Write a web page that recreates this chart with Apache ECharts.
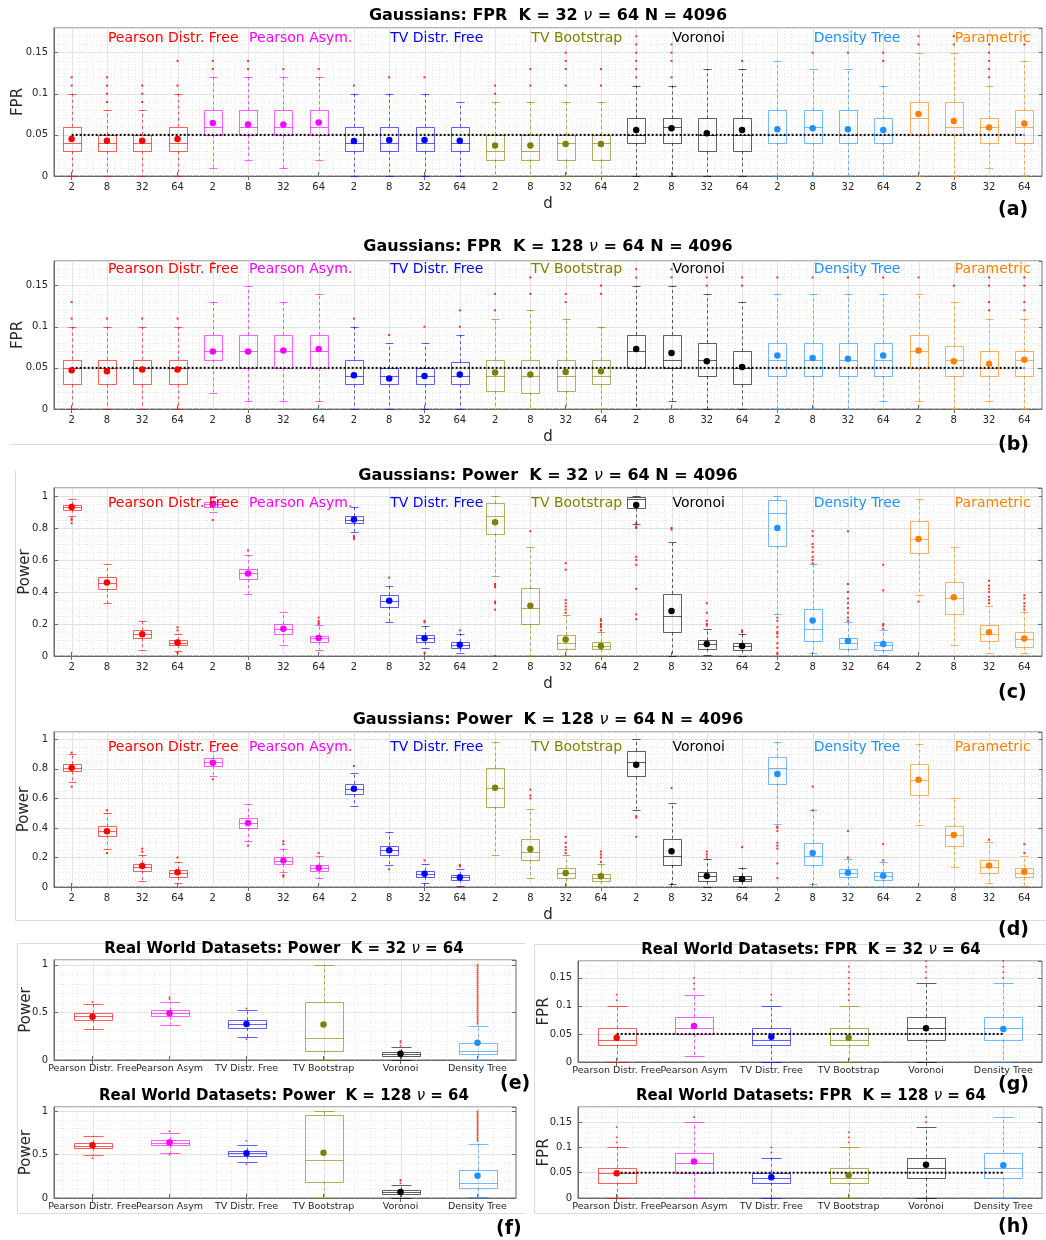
<!DOCTYPE html>
<html><head><meta charset="utf-8">
<script src="https://cdn.jsdelivr.net/npm/echarts@6/dist/echarts.min.js"></script>
<style>html,body{margin:0;padding:0;background:#fff}#c{width:1046px;height:1240px}</style>
</head><body><div id="c"></div>
<script>
// ---------------- DATA ----------------
const methods = ['Pearson Distr. Free','Pearson Asym.','TV Distr. Free','TV Bootstrap','Voronoi','Density Tree','Parametric'];
const realMethods = ['Pearson Distr. Free','Pearson Asym','TV Distr. Free','TV Bootstrap','Voronoi','Density Tree'];
const dLabels = ['2','8','32','64'];
const fprTicks = [0, 0.05, 0.1, 0.15];
const powerTicks = [0, 0.2, 0.4, 0.6, 0.8, 1];
const realPowerTicks = [0, 0.5, 1];

// boxes: [lowWhisker, Q1, median, Q3, highWhisker]
const aBoxes = [
 [0,0.03,0.04,0.06,0.10],[0,0.03,0.04,0.05,0.08],[0,0.03,0.04,0.05,0.08],[0,0.03,0.04,0.06,0.10],
 [0.01,0.05,0.06,0.08,0.12],[0.02,0.05,0.06,0.08,0.12],[0.01,0.05,0.06,0.08,0.12],[0.02,0.05,0.06,0.08,0.12],
 [0,0.03,0.04,0.06,0.10],[0,0.03,0.04,0.06,0.10],[0,0.03,0.04,0.06,0.10],[0,0.03,0.04,0.06,0.09],
 [0,0.02,0.03,0.05,0.09],[0,0.02,0.03,0.05,0.09],[0,0.02,0.04,0.05,0.09],[0,0.02,0.04,0.05,0.09],
 [0,0.04,0.05,0.07,0.11],[0,0.04,0.06,0.07,0.11],[0,0.03,0.05,0.07,0.13],[0,0.03,0.05,0.07,0.13],
 [0,0.04,0.05,0.08,0.14],[0,0.04,0.06,0.08,0.13],[0,0.04,0.05,0.08,0.13],[0,0.04,0.05,0.07,0.11],
 [0,0.05,0.07,0.09,0.15],[0,0.05,0.06,0.09,0.15],[0.01,0.04,0.06,0.07,0.11],[0,0.04,0.06,0.08,0.14]
];
const aMeans = [0.045,0.043,0.043,0.045, 0.0645,0.0625,0.0625,0.065, 0.0425,0.0437,0.0437,0.043,
 0.037,0.037,0.039,0.039, 0.056,0.058,0.052,0.056, 0.057,0.058,0.057,0.056, 0.0755,0.067,0.059,0.0637];
const aOutliers = [[0.11,0.12],[0.09,0.1,0.11,0.12],[0.09,0.1,0.11],[0.11,0.14],
 [0.13,0.14],[0.13,0.14],[0.13],[0.13],
 [0.11],[0.12],[0.12],[],
 [0.1,0.11],[0.11,0.13],[0.11,0.13,0.14,0.15],[0.11,0.13],
 [0.12,0.13,0.14,0.15,0.16,0.17],[0.12,0.14,0.15,0.16],[],[0.14],
 [],[0.15],[0.15],[0.14,0.15],
 [0.16,0.17],[0.16,0.17],[0.12,0.13,0.14,0.15,0.16],[0.16,0.17]];

const bBoxes = [
 [0,0.03,0.05,0.06,0.10],[0,0.03,0.05,0.06,0.10],[0,0.03,0.05,0.06,0.10],[0,0.03,0.05,0.06,0.10],
 [0.02,0.06,0.07,0.09,0.13],[0.01,0.05,0.07,0.09,0.15],[0.01,0.05,0.07,0.09,0.13],[0.01,0.05,0.07,0.09,0.14],
 [0,0.03,0.04,0.06,0.10],[0,0.03,0.04,0.05,0.08],[0,0.03,0.04,0.05,0.08],[0,0.03,0.04,0.057,0.09],
 [0,0.022,0.04,0.06,0.11],[0,0.02,0.04,0.06,0.12],[0,0.022,0.04,0.06,0.11],[0,0.03,0.04,0.06,0.10],
 [0,0.05,0.07,0.09,0.15],[0.01,0.05,0.06,0.09,0.15],[0,0.04,0.06,0.08,0.14],[0,0.03,0.05,0.07,0.13],
 [0,0.04,0.06,0.08,0.14],[0,0.04,0.06,0.08,0.14],[0,0.04,0.06,0.08,0.14],[0.01,0.04,0.06,0.08,0.14],
 [0.01,0.05,0.07,0.09,0.14],[0,0.04,0.06,0.0765,0.13],[0.01,0.04,0.05,0.07,0.11],[0,0.04,0.06,0.07,0.11]
];
const bMeans = [0.047,0.046,0.048,0.048, 0.07,0.07,0.071,0.073, 0.041,0.037,0.04,0.042,
 0.0445,0.042,0.045,0.046, 0.073,0.068,0.058,0.051, 0.065,0.062,0.061,0.065, 0.071,0.058,0.055,0.06];
const bOutliers = [[0.11,0.13],[0.11],[0.11],[0.11],
 [0.178],[],[],[],
 [0.11],[0.09],[0.1],[0.1,0.12],
 [0.12,0.14],[0.14,0.16],[0.13,0.14],[0.14,0.15],
 [0.16,0.17],[0.16,0.17],[0.15,0.16],[0.15,0.16],
 [0.16],[0.16],[0.16],[0.16],
 [0.16],[0.15],[0.12,0.13,0.15,0.16],[0.12,0.13,0.15,0.16]];

const cBoxes = [
 [0.874,0.914,0.93,0.945,0.983],[0.33,0.421,0.459,0.493,0.572],[0.04,0.11,0.136,0.16,0.22],[0.03,0.07,0.084,0.098,0.14],
 [0.9,0.931,0.948,0.962,1.0],[0.39,0.48,0.516,0.543,0.63],[0.07,0.14,0.17,0.2,0.277],[0.04,0.088,0.113,0.128,0.193],
 [0.774,0.832,0.853,0.874,0.933],[0.21,0.308,0.346,0.38,0.44],[0.048,0.088,0.111,0.13,0.19],[0.02,0.048,0.071,0.088,0.14],
 [0.5,0.765,0.874,0.954,1.0],[0,0.197,0.3,0.423,0.681],[0,0.046,0.08,0.13,0.254],[0,0.042,0.06,0.088,0.147],
 [0.826,0.922,0.98,0.995,1.0],[0,0.147,0.25,0.388,0.715],[0.008,0.046,0.078,0.098,0.17],[0,0.038,0.065,0.08,0.138],
 [0.26,0.686,0.895,0.975,1.0],[0.02,0.096,0.17,0.291,0.572],[0,0.046,0.08,0.115,0.21],[0.008,0.038,0.071,0.09,0.16],
 [0.382,0.644,0.732,0.843,0.983],[0.071,0.26,0.365,0.465,0.681],[0.021,0.096,0.14,0.193,0.31],[0.021,0.057,0.109,0.147,0.277]
];
const cMeans = [0.931,0.459,0.136,0.084, 0.948,0.516,0.17,0.113, 0.853,0.346,0.111,0.071,
 0.836,0.314,0.103,0.063, 0.943,0.281,0.075,0.063, 0.8,0.222,0.094,0.075, 0.732,0.367,0.149,0.109];
const cOutliers = [[0.86,0.85,0.83],[],[],[0.16,0.18,0.02],
 [0.85],[0.66],[],[0.2,0.21,0.22,0.24],
 [0.75,0.74,0.73],[0.49],[0.21,0.22,0.02],[0.16],
 [0.45,0.44,0.43,0.34,0.33,0.29,0.0],[0.78],[0.27,0.29,0.31,0.33,0.35,0.54,0.58],[0.16,0.18,0.19,0.2,0.22,0.23],
 [0.83,0.81,0.8,0.62,0.6,0.57,0.42,0.26,0.23],[0.79,0.8],[0.19,0.2,0.22,0.27,0.33],[0.15,0.16],
 [0.24,0.22,0.18,0.15,0.14,0.12,0.08,0.05,0.02,0.01],[0.58,0.6,0.62,0.65,0.68,0.7,0.75,0.78],[0.22,0.24,0.27,0.3,0.33,0.36,0.4,0.45,0.78],[0.17,0.19,0.2,0.41,0.57],
 [0.34],[],[0.33,0.35,0.37,0.4,0.42,0.44,0.47],[0.29,0.31,0.33,0.36,0.38]];

const dBoxes = [
 [0.71,0.783,0.808,0.83,0.9],[0.26,0.348,0.378,0.41,0.5],[0.04,0.109,0.138,0.158,0.217],[0.029,0.07,0.097,0.118,0.17],
 [0.751,0.821,0.844,0.871,0.92],[0.31,0.4,0.434,0.47,0.561],[0.1,0.156,0.179,0.2,0.26],[0.061,0.109,0.131,0.149,0.21],
 [0.552,0.629,0.663,0.699,0.77],[0.152,0.217,0.249,0.281,0.371],[0.029,0.07,0.09,0.111,0.156],[0.009,0.05,0.066,0.081,0.12],
 [0.217,0.543,0.672,0.808,0.98],[0.059,0.181,0.24,0.328,0.527],[0,0.061,0.095,0.127,0.219],[0,0.041,0.063,0.088,0.158],
 [0.52,0.749,0.848,0.921,1.0],[0.018,0.149,0.21,0.328,0.57],[0,0.038,0.072,0.1,0.19],[0,0.038,0.057,0.075,0.131],
 [0.43,0.701,0.805,0.882,0.982],[0.02,0.149,0.213,0.301,0.52],[0,0.068,0.095,0.122,0.19],[0,0.05,0.077,0.102,0.172],
 [0.423,0.62,0.726,0.83,0.97],[0.138,0.278,0.353,0.41,0.6],[0.029,0.097,0.138,0.181,0.303],[0.009,0.068,0.097,0.131,0.21]
];
const dMeans = [0.808,0.378,0.143,0.1, 0.842,0.434,0.179,0.131, 0.665,0.249,0.09,0.066,
 0.672,0.258,0.095,0.072, 0.828,0.242,0.075,0.054, 0.765,0.231,0.097,0.077, 0.726,0.353,0.145,0.104];
const dOutliers = [[0.91,0.68],[0.52,0.23],[0.24,0.26],[0.2],
 [0.73],[0.28],[0.29,0.31,0.08,0.07],[0.23],
 [0.82],[0.12],[0.18],[0.14,0.15,0],
 [],[0.6,0.62,0.66],[0.23,0.25,0.27,0.3,0.34],[0.17,0.2,0.22,0.24],
 [0.48,0.47,0.34],[0.67],[0.2,0.22,0.24],[0.27],
 [0.41,0.4,0.38,0.3,0.28,0.26,0.16,0.06],[0.52,0.68],[0.2,0.38],[0.18,0.29],
 [],[],[0.32],[0.23,0.29]];

const eBoxes = [[0.329,0.42,0.46,0.49,0.587],[0.37,0.458,0.49,0.52,0.605],[0.241,0.336,0.378,0.416,0.528],
 [0,0.098,0.227,0.605,1.0],[0,0.042,0.066,0.084,0.133],[0,0.059,0.098,0.178,0.36]];
const eMeans = [0.455,0.49,0.378,0.374,0.066,0.182];
const eOutliers = [[0.61],[0.64,0.66],[0.54,0.22],[],[0.15,0.18,0.2],
 [0.38,0.4,0.42,0.44,0.46,0.48,0.5,0.52,0.54,0.56,0.58,0.6,0.62,0.64,0.66,0.68,0.7,0.72,0.74,0.76,0.78,0.8,0.82,0.84,0.86,0.88,0.9,0.92,0.94,0.96,0.98,1.0]];

const fBoxes = [[0.494,0.578,0.605,0.636,0.72],[0.517,0.609,0.64,0.67,0.747],[0.418,0.487,0.517,0.544,0.609],
 [0,0.188,0.44,0.958,1.0],[0,0.046,0.069,0.092,0.149],[0.008,0.119,0.176,0.318,0.625]];
const fMeans = [0.609,0.64,0.517,0.521,0.069,0.257];
const fOutliers = [[0.46],[0.77,0.5],[0.66,0.39],[],[0.17,0.2,0.21],
 [0.66,0.68,0.7,0.72,0.74,0.76,0.78,0.8,0.82,0.84,0.86,0.88,0.9,0.92,0.94,0.96,0.98,1.0]];

const gBoxes = [[0,0.03,0.04,0.06,0.1],[0.01,0.05,0.06,0.08,0.12],[0,0.03,0.04,0.06,0.1],
 [0,0.03,0.04,0.06,0.1],[0,0.04,0.06,0.08,0.14],[0,0.04,0.06,0.08,0.14]];
const gMeans = [0.043,0.064,0.045,0.043,0.06,0.059];
const gOutliers = [[0.11,0.12],[0.13,0.14,0.15],[0.11,0.12],[0.11,0.12,0.13,0.14,0.15,0.16,0.17],[0.15,0.16,0.17,0.18],[0.15,0.16,0.17,0.18]];

const hBoxes = [[0,0.03,0.05,0.06,0.1],[0,0.05,0.07,0.09,0.15],[0,0.03,0.04,0.05,0.08],
 [0,0.03,0.04,0.06,0.1],[0,0.04,0.06,0.08,0.14],[0,0.04,0.06,0.09,0.16]];
const hMeans = [0.049,0.072,0.041,0.045,0.066,0.065];
const hOutliers = [[0.11,0.12,0.14],[0.16],[0.09,0.1],[0.11,0.12,0.13],[0.15,0.16],[]];

const fprRef = 0.05;

// ---------------- STYLE / LAYOUT ----------------
const colors = ['#ff0000','#ff00ff','#0000ff','#808000','#000000','#1e90ff','#ff8000'];
const FONT = 'DejaVu Sans';
const TXT = '#262626';
const AX = '#6a6a6a';

const gaussCats = methods.flatMap(m => dLabels.map(d => m + ' d=' + d));

const panels = [
 {boxes:aBoxes, means:aMeans, outl:aOutliers, gauss:true, fpr:true, yName:'FPR', yGap:28,
  title:'Gaussians: FPR  K = 32 {nu|ν} = 64 N = 4096', tx:548, ty:8, tfs:16,
  grid:{left:54, top:28, width:988, height:148}, labY:0.168, tag:'(a)', tagX:1015, tagY:212},
 {boxes:bBoxes, means:bMeans, outl:bOutliers, gauss:true, fpr:true, yName:'FPR', yGap:28,
  title:'Gaussians: FPR  K = 128 {nu|ν} = 64 N = 4096', tx:548, ty:239, tfs:16,
  grid:{left:54, top:261, width:988, height:148}, labY:0.170, tag:'(b)', tagX:1015, tagY:447},
 {boxes:cBoxes, means:cMeans, outl:cOutliers, gauss:true, fpr:false, yName:'Power', yGap:21,
  title:'Gaussians: Power  K = 32 {nu|ν} = 64 N = 4096', tx:548, ty:468, tfs:16,
  grid:{left:54, top:488, width:988, height:168}, labY:0.951, tag:'(c)', tagX:1015, tagY:695},
 {boxes:dBoxes, means:dMeans, outl:dOutliers, gauss:true, fpr:false, yName:'Power', yGap:22,
  title:'Gaussians: Power  K = 128 {nu|ν} = 64 N = 4096', tx:548, ty:712, tfs:16,
  grid:{left:54, top:732, width:988, height:155}, labY:0.944, tag:'(d)', tagX:1015, tagY:932},
 {boxes:eBoxes, means:eMeans, outl:eOutliers, gauss:false, fpr:false, yName:'Power', yGap:20,
  title:'Real World Datasets: Power  K = 32 {nu|ν} = 64', tx:284, ty:942, tfs:15,
  grid:{left:54, top:960, width:462, height:100}, tag:'(e)', tagX:517, tagY:1086},
 {boxes:fBoxes, means:fMeans, outl:fOutliers, gauss:false, fpr:false, yName:'Power', yGap:20,
  title:'Real World Datasets: Power  K = 128 {nu|ν} = 64', tx:284, ty:1089, tfs:15,
  grid:{left:54, top:1107, width:462, height:91}, tag:'(f)', tagX:513, tagY:1231},
 {boxes:gBoxes, means:gMeans, outl:gOutliers, gauss:false, fpr:true, yName:'FPR', yGap:26,
  title:'Real World Datasets: FPR  K = 32 {nu|ν} = 64', tx:811, ty:943, tfs:15,
  grid:{left:578, top:961, width:464, height:101}, tag:'(g)', tagX:1015, tagY:1087},
 {boxes:hBoxes, means:hMeans, outl:hOutliers, gauss:false, fpr:true, yName:'FPR', yGap:26,
  title:'Real World Datasets: FPR  K = 128 {nu|ν} = 64', tx:811, ty:1089, tfs:15,
  grid:{left:578, top:1107, width:464, height:91}, tag:'(h)', tagX:1015, tagY:1229}
];

function rgba(hex, a) {
  const n = parseInt(hex.slice(1), 16);
  return 'rgba(' + ((n >> 16) & 255) + ',' + ((n >> 8) & 255) + ',' + (n & 255) + ',' + a + ')';
}
const px = v => Math.round(v) + 0.5;

function boxRender(colorOf) {
  return function (params, api) {
    const i = api.value(0);
    const lo = api.coord([i, api.value(1)]), q1 = api.coord([i, api.value(2)]),
          md = api.coord([i, api.value(3)]), q3 = api.coord([i, api.value(4)]),
          hi = api.coord([i, api.value(5)]);
    const bw = api.size([1, 0])[0];
    const c = rgba(colorOf(i), 0.62);
    const x = px(lo[0]);
    const hb = Math.round(bw * 0.25), hc = Math.round(bw * 0.125);
    const solid = {stroke: c, lineWidth: 1, fill: null};
    const dash = {stroke: c, lineWidth: 1, lineDash: [3, 3], fill: null};
    return {type: 'group', children: [
      {type: 'line', shape: {x1: x, y1: q3[1], x2: x, y2: hi[1]}, style: dash},
      {type: 'line', shape: {x1: x, y1: q1[1], x2: x, y2: lo[1]}, style: dash},
      {type: 'line', shape: {x1: x - hc, y1: px(hi[1]), x2: x + hc, y2: px(hi[1])}, style: solid},
      {type: 'line', shape: {x1: x - hc, y1: px(lo[1]), x2: x + hc, y2: px(lo[1])}, style: solid},
      {type: 'rect', shape: {x: x - hb, y: px(q3[1]), width: 2 * hb, height: Math.round(q1[1]) - Math.round(q3[1])}, style: solid},
      {type: 'line', shape: {x1: x - hb, y1: px(md[1]), x2: x + hb, y2: px(md[1])}, style: solid}
    ]};
  };
}

function vgridRender(yMax) {
  return function (params, api) {
    const i = api.value(0);
    const p0 = api.coord([i, 0]), p1 = api.coord([i, yMax]);
    const bw = api.size([1, 0])[0];
    const ch = [{type: 'line', shape: {x1: px(p0[0]), y1: p0[1], x2: px(p0[0]), y2: p1[1]},
                 style: {stroke: '#e2e2e2', lineWidth: 1}}];
    [-0.4, -0.2, 0.2, 0.4].forEach(o => {
      const xx = px(p0[0] + o * bw);
      ch.push({type: 'line', shape: {x1: xx, y1: p0[1], x2: xx, y2: p1[1]},
               style: {stroke: '#e6e6e6', lineWidth: 1, lineDash: [1, 2]}});
    });
    return {type: 'group', children: ch};
  };
}

function labelRender(params, api) {
  const p = api.coord([api.value(0), api.value(1)]);
  const k = params.dataIndex;
  return {type: 'text', x: p[0] + 1, y: p[1],
    style: {text: methods[k], fill: colors[k], fontSize: 14, fontFamily: FONT, align: 'left', verticalAlign: 'middle'}};
}

const option = {animation: false, backgroundColor: '#fff', title: [], grid: [], xAxis: [], yAxis: [], series: [], graphic: []};

panels.forEach((p, g) => {
  const cats = p.gauss ? gaussCats : realMethods;
  const colorOf = p.gauss ? (i => colors[Math.floor(i / 4)]) : (i => colors[i]);
  const yMax = p.fpr ? 0.18 : 1.05;
  const yInt = p.fpr ? 0.05 : (p.gauss ? 0.2 : 0.5);
  const minorN = p.fpr ? 5 : (p.gauss ? 4 : 5);
  const xi = 2 * g, yi = 2 * g;

  option.grid.push(Object.assign({containLabel: false, outerBoundsMode: 'none', show: true,
    borderColor: AX, borderWidth: 1, backgroundColor: 'transparent'}, p.grid));
  option.title.push({
    text: p.title, left: p.tx, top: p.ty, textAlign: 'center', padding: 0,
    textStyle: {fontFamily: FONT, fontWeight: 'bold', fontSize: p.tfs, color: '#000',
      rich: {nu: {fontFamily: FONT, fontStyle: 'italic', fontWeight: 'normal', fontSize: p.tfs, color: '#000'}}}
  });
  option.xAxis.push({
    gridIndex: g, type: 'category', data: cats, boundaryGap: true, position: 'bottom',
    axisLine: {show: true, onZero: false, lineStyle: {color: AX, width: 1}},
    axisTick: {show: true, inside: true, alignWithLabel: true, length: 4, lineStyle: {color: AX}},
    axisLabel: {show: true, interval: 0, margin: p.gauss ? 6 : 4,
      formatter: p.gauss ? ((v, idx) => dLabels[idx % 4]) : (v => v),
      fontFamily: FONT, fontSize: p.gauss ? 10 : 9.5, color: TXT},
    splitLine: {show: false},
    name: p.gauss ? 'd' : '', nameLocation: 'middle', nameGap: 21, nameMoveOverlap: false,
    nameTextStyle: {fontFamily: FONT, fontSize: 15, color: TXT}
  });
  option.xAxis.push({
    gridIndex: g, type: 'category', data: cats, boundaryGap: true, position: 'top',
    axisLine: {show: false},
    axisTick: {show: true, inside: true, alignWithLabel: true, length: 4, lineStyle: {color: AX}},
    axisLabel: {show: false}, splitLine: {show: false}
  });
  option.yAxis.push({
    gridIndex: g, type: 'value', min: 0, max: yMax, interval: yInt, position: 'left',
    axisLine: {show: true, lineStyle: {color: AX, width: 1}},
    axisTick: {show: true, inside: true, length: 4, lineStyle: {color: AX}},
    axisLabel: {show: true, showMaxLabel: false, margin: 6, fontFamily: FONT, fontSize: 10, color: TXT,
      formatter: v => String(Math.round(v * 100) / 100)},
    splitLine: {show: true, lineStyle: {color: '#e2e2e2', width: 1}},
    minorTick: {show: false, splitNumber: minorN},
    minorSplitLine: {show: true, lineStyle: {color: '#e6e6e6', width: 1, type: [1, 2]}},
    name: p.yName, nameLocation: 'middle', nameGap: p.yGap, nameMoveOverlap: false,
    nameTextStyle: {fontFamily: FONT, fontSize: 15, color: TXT}
  });
  option.yAxis.push({
    gridIndex: g, type: 'value', min: 0, max: yMax, interval: yInt, position: 'right',
    axisLine: {show: false},
    axisTick: {show: true, inside: true, length: 4, lineStyle: {color: AX}},
    axisLabel: {show: false}, splitLine: {show: false}
  });

  // vertical grid
  option.series.push({
    type: 'custom', xAxisIndex: xi, yAxisIndex: yi, z: 1, silent: true,
    renderItem: vgridRender(yMax), encode: {x: 0, y: 1},
    data: cats.map((c, i) => [i, 0])
  });
  // boxes
  option.series.push({
    type: 'custom', xAxisIndex: xi, yAxisIndex: yi, z: 2, silent: true,
    renderItem: boxRender(colorOf), encode: {x: 0, y: [1, 2, 3, 4, 5]},
    data: p.boxes.map((b, i) => [i].concat(b))
  });
  // reference line
  if (p.fpr) {
    option.series.push({
      type: 'line', xAxisIndex: xi, yAxisIndex: yi, z: 3, silent: true, symbol: 'none',
      lineStyle: {color: '#000', width: 2, type: [2, 2]},
      data: [[0, fprRef], [cats.length - 1, fprRef]]
    });
  }
  // outliers
  const od = [];
  p.outl.forEach((arr, i) => arr.forEach(v => od.push([i, v])));
  option.series.push({
    type: 'scatter', xAxisIndex: xi, yAxisIndex: yi, z: 4, silent: true,
    symbol: 'rect', symbolSize: p.gauss ? 2 : 1.6, itemStyle: {color: '#ff0000'}, data: od
  });
  // means
  option.series.push({
    type: 'scatter', xAxisIndex: xi, yAxisIndex: yi, z: 5, silent: true,
    symbol: 'circle', symbolSize: 6.5,
    itemStyle: {color: prm => colorOf(prm.data[0]), opacity: 1},
    data: p.means.map((m, i) => [i, m])
  });
  // method labels
  if (p.gauss) {
    option.series.push({
      type: 'custom', xAxisIndex: xi, yAxisIndex: yi, z: 6, silent: true,
      renderItem: labelRender, encode: {x: 0, y: 1},
      data: methods.map((m, k) => [4 * k + 1, p.labY])
    });
  }
  option.graphic.push({type: 'text', left: p.tagX - 17, top: p.tagY - 11,
    style: {text: p.tag, fontFamily: FONT, fontWeight: 'bold', fontSize: 19, fill: '#000'}});
});

const FR = '#dcdcdc';
[
 [9, 444, 1030, 444],
 [15, 470, 15, 920], [15, 920, 1046, 920],
 [17, 943, 17, 1213], [17, 943, 525, 943], [17, 1213, 525, 1213],
 [534, 944, 534, 1213], [534, 944, 1046, 944], [534, 1213, 1046, 1213]
].forEach(l => option.graphic.push({type: 'line', silent: true, z: -1,
  shape: {x1: l[0] + 0.5, y1: l[1] + 0.5, x2: l[2] + 0.5, y2: l[3] + 0.5}, style: {stroke: FR, lineWidth: 1}}));

const chart = echarts.init(document.getElementById('c'), null, {renderer: 'canvas', width: 1046, height: 1240});
chart.setOption(option);
</script>
</body></html>
